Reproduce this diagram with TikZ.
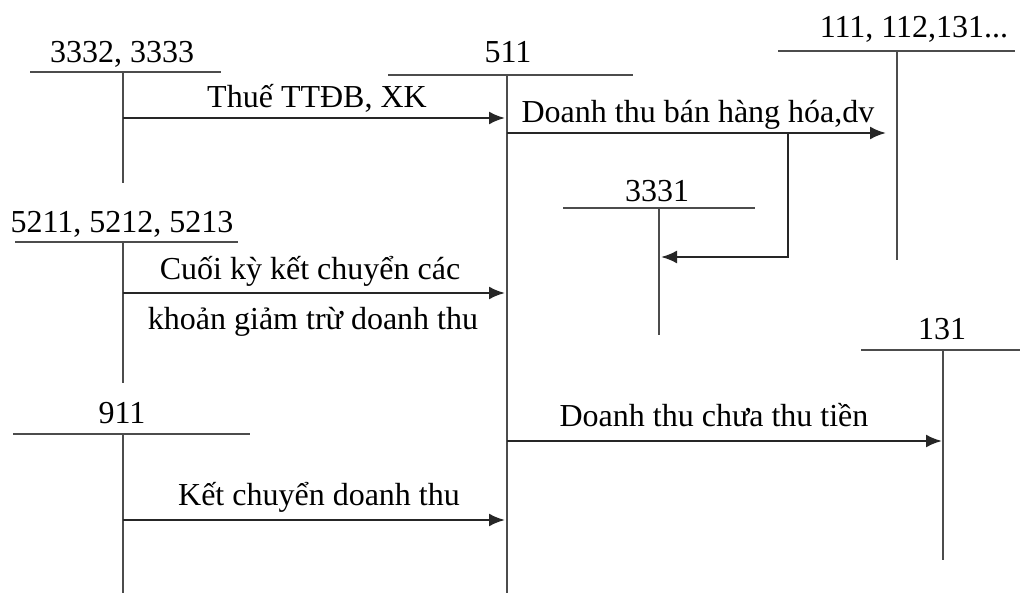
\documentclass[tikz,border=0pt]{standalone}
\usepackage{fontspec}
\setmainfont{Liberation Serif}
\usetikzlibrary{arrows.meta}
\begin{document}
\begin{tikzpicture}[x=1pt,y=-1pt,
  txt/.style={anchor=base, inner sep=0pt, font=\fontsize{32}{38}\selectfont},
  tline/.style={draw=black!70, line width=2.3pt},
  flow/.style={draw=black!85, line width=2.3pt, -{Latex[length=16pt,width=13pt]}}]
\useasboundingbox (0,0) rectangle (1020,593);
% ---- account 3332, 3333
\node[txt] (n3332) at (122,63) {3332, 3333};
\coordinate (a3332L) at (30,72); \coordinate (a3332R) at (221,72);
\coordinate (a3332T) at (123,72); \coordinate (a3332B) at (123,183);
\draw[tline] (a3332L) -- (a3332R); \draw[tline] (a3332T) -- (a3332B);
% ---- account 511
\node[txt] (n511) at (508,63) {511};
\coordinate (a511L) at (388,75); \coordinate (a511R) at (633,75);
\coordinate (a511T) at (507,75); \coordinate (a511B) at (507,593);
\draw[tline] (a511L) -- (a511R); \draw[tline] (a511T) -- (a511B);
% ---- account 111, 112, 131...
\node[txt] (n111) at (914,38) {111, 112,131...};
\coordinate (a111L) at (778,51); \coordinate (a111R) at (1015,51);
\coordinate (a111T) at (897,51); \coordinate (a111B) at (897,260);
\draw[tline] (a111L) -- (a111R); \draw[tline] (a111T) -- (a111B);
% ---- account 3331
\node[txt] (n3331) at (657,202) {3331};
\coordinate (a3331L) at (563,208); \coordinate (a3331R) at (755,208);
\coordinate (a3331T) at (659,208); \coordinate (a3331B) at (659,335);
\draw[tline] (a3331L) -- (a3331R); \draw[tline] (a3331T) -- (a3331B);
% ---- account 5211, 5212, 5213
\node[txt] (n5211) at (122,233) {5211, 5212, 5213};
\coordinate (a5211L) at (15,242); \coordinate (a5211R) at (238,242);
\coordinate (a5211T) at (123,242); \coordinate (a5211B) at (123,383);
\draw[tline] (a5211L) -- (a5211R); \draw[tline] (a5211T) -- (a5211B);
% ---- account 131
\node[txt] (n131) at (942,340) {131};
\coordinate (a131L) at (861,350); \coordinate (a131R) at (1020,350);
\coordinate (a131T) at (943,350); \coordinate (a131B) at (943,560);
\draw[tline] (a131L) -- (a131R); \draw[tline] (a131T) -- (a131B);
% ---- account 911
\node[txt] (n911) at (122,424) {911};
\coordinate (a911L) at (13,434); \coordinate (a911R) at (250,434);
\coordinate (a911T) at (123,434); \coordinate (a911B) at (123,593);
\draw[tline] (a911L) -- (a911R); \draw[tline] (a911T) -- (a911B);
% ---- flows
\coordinate (f1s) at (123,118); \coordinate (f1e) at (505,118);
\draw[flow] (f1s) -- (f1e);
\node[txt] (l1) at (317,108) {Thuế TTĐB, XK};
\coordinate (f2s) at (507,133); \coordinate (f2e) at (886,133);
\draw[flow] (f2s) -- (f2e);
\node[txt] (l2) at (698,123) {Doanh thu bán hàng hóa,dv};
\coordinate (f3s) at (788,133); \coordinate (f3e) at (661,257);
\draw[flow] (f3s) |- (f3e);
\coordinate (f4s) at (123,293); \coordinate (f4e) at (505,293);
\draw[flow] (f4s) -- (f4e);
\node[txt] (l4a) at (310,280) {Cuối kỳ kết chuyển các};
\node[txt] (l4b) at (313,330) {khoản giảm trừ doanh thu};
\coordinate (f5s) at (507,441); \coordinate (f5e) at (942,441);
\draw[flow] (f5s) -- (f5e);
\node[txt] (l5) at (714,427) {Doanh thu chưa thu tiền};
\coordinate (f6s) at (123,520); \coordinate (f6e) at (505,520);
\draw[flow] (f6s) -- (f6e);
\node[txt] (l6) at (319,505) {Kết chuyển doanh thu};
\end{tikzpicture}
\end{document}
